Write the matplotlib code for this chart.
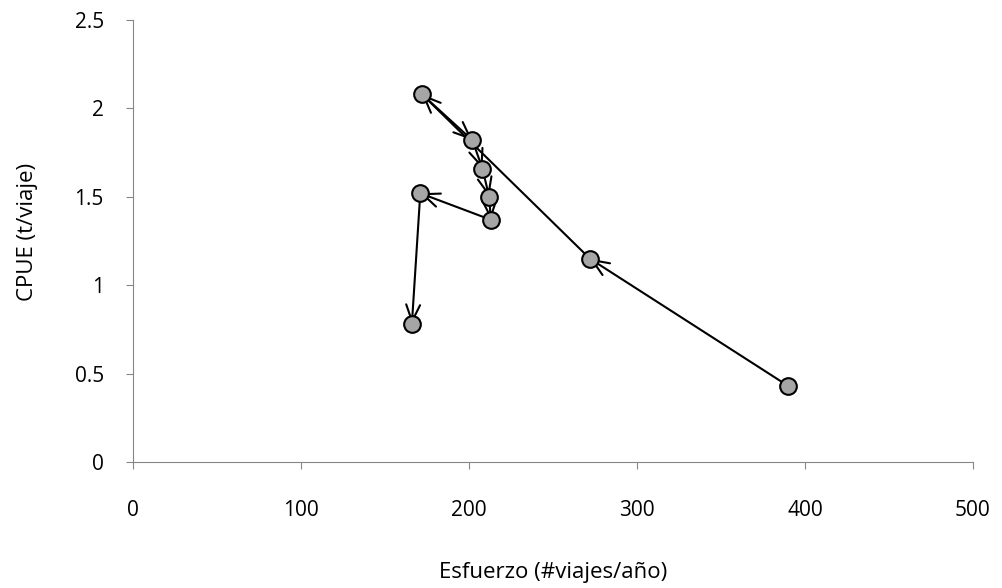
import matplotlib.pyplot as plt

# esfuerzo y CPUE por año, en orden cronológico
esfuerzo = [390, 272, 172, 202, 208, 212, 213, 171, 166]
cpue = [0.43, 1.15, 2.08, 1.82, 1.66, 1.50, 1.37, 1.52, 0.78]

plt.rcParams['font.family'] = ['Open Sans', 'DejaVu Sans']

fig = plt.figure(figsize=(10.02, 5.88), dpi=100)
ax = fig.add_axes([133/1002, 1 - 462/588, (973-133)/1002, (462-20)/588])

# segmentos con flecha abierta al final
for i in range(len(esfuerzo) - 1):
    ax.annotate('', xy=(esfuerzo[i+1], cpue[i+1]), xytext=(esfuerzo[i], cpue[i]),
                arrowprops=dict(arrowstyle='->,head_length=1.2,head_width=0.5',
                                color='black', lw=1.5, shrinkA=0, shrinkB=0),
                zorder=2)

ax.plot(esfuerzo, cpue, linestyle='none', marker='o', markersize=12,
        markerfacecolor='#a6a6a6', markeredgecolor='black', markeredgewidth=1.5,
        zorder=3)

ax.set_xlim(0, 500)
ax.set_ylim(0, 2.5)
ax.set_xticks([0, 100, 200, 300, 400, 500])
ax.set_yticks([0, 0.5, 1, 1.5, 2, 2.5])
ax.set_yticklabels(['0', '0.5', '1', '1.5', '2', '2.5'])
ax.spines['top'].set_visible(False)
ax.spines['right'].set_visible(False)
ax.spines['left'].set_color('#868686')
ax.spines['bottom'].set_color('#868686')
ax.tick_params(direction='out', length=5, color='#868686', labelsize=15)
ax.tick_params(axis='x', pad=22)
ax.tick_params(axis='y', pad=16)

ax.set_xlabel('Esfuerzo (#viajes/año)', fontsize=16, va='center')
ax.set_ylabel('CPUE (t/viaje)', fontsize=16, va='center')
ax.xaxis.set_label_coords(0.5, -0.25)
ax.yaxis.set_label_coords(-0.125, 0.52)

fig.savefig('out.png', dpi=100)
